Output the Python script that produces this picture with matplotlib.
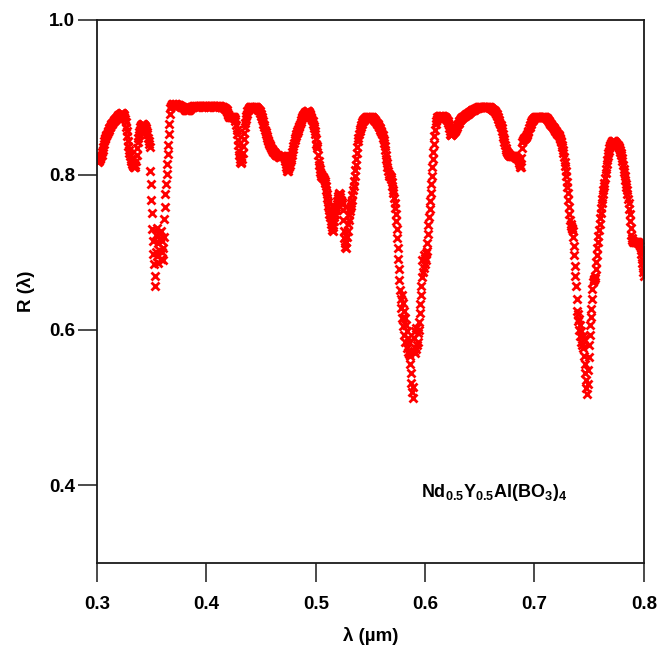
import numpy as np
import matplotlib
matplotlib.use("Agg")
import matplotlib.pyplot as plt
from matplotlib.ticker import FormatStrFormatter

plt.rcParams['font.family'] = ['Liberation Sans', 'DejaVu Sans']
plt.rcParams['font.weight'] = 'bold'
plt.rcParams['mathtext.fontset'] = 'custom'
plt.rcParams['mathtext.rm'] = 'Liberation Sans:bold'
plt.rcParams['mathtext.bf'] = 'Liberation Sans:bold'

# wavelength grid, 0.5 nm steps from 300 to 800 nm
wl = np.arange(300, 800.5, 0.5) / 1000.0

# reflectance, one list per 10 nm
r300 = [0.818, 0.817, 0.819, 0.818, 0.820, 0.821, 0.822, 0.824, 0.826, 0.829, 0.832, 0.836, 0.840, 0.843, 0.846, 0.848, 0.850, 0.851, 0.853, 0.855]
r310 = [0.857, 0.858, 0.860, 0.861, 0.862, 0.864, 0.865, 0.866, 0.867, 0.868, 0.869, 0.870, 0.871, 0.872, 0.872, 0.873, 0.874, 0.875, 0.876, 0.877]
r320 = [0.877, 0.878, 0.879, 0.879, 0.880, 0.880, 0.880, 0.879, 0.878, 0.877, 0.875, 0.872, 0.868, 0.862, 0.856, 0.850, 0.843, 0.837, 0.832, 0.828]
r330 = [0.824, 0.821, 0.818, 0.816, 0.814, 0.812, 0.811, 0.810, 0.810, 0.810, 0.812, 0.818, 0.826, 0.835, 0.842, 0.847, 0.851, 0.855, 0.858, 0.861]
r340 = [0.863, 0.864, 0.865, 0.865, 0.865, 0.864, 0.864, 0.863, 0.862, 0.860, 0.858, 0.855, 0.852, 0.848, 0.844, 0.840, 0.836, 0.805, 0.788, 0.768]
r350 = [0.751, 0.730, 0.715, 0.698, 0.685, 0.670, 0.657, 0.722, 0.700, 0.731, 0.695, 0.712, 0.686, 0.725, 0.703, 0.718, 0.692, 0.728, 0.700, 0.715]
r360 = [0.690, 0.705, 0.720, 0.743, 0.758, 0.775, 0.788, 0.801, 0.814, 0.827, 0.839, 0.852, 0.865, 0.878, 0.886, 0.889, 0.890, 0.891, 0.891, 0.891]
r370 = [0.890, 0.890, 0.890, 0.891, 0.891, 0.891, 0.890, 0.890, 0.890, 0.890, 0.890, 0.889, 0.889, 0.889, 0.888, 0.888, 0.887, 0.887, 0.886, 0.886]
r380 = [0.885, 0.884, 0.884, 0.883, 0.883, 0.883, 0.883, 0.884, 0.884, 0.885, 0.886, 0.887, 0.887, 0.888, 0.888, 0.888, 0.889, 0.889, 0.889, 0.889]
r390 = [0.889, 0.889, 0.888, 0.889, 0.889, 0.889, 0.888, 0.889, 0.889, 0.889, 0.889, 0.888, 0.889, 0.889, 0.889, 0.889, 0.888, 0.889, 0.889, 0.889]
r400 = [0.889, 0.889, 0.888, 0.889, 0.889, 0.889, 0.888, 0.889, 0.889, 0.889, 0.889, 0.888, 0.889, 0.889, 0.889, 0.889, 0.888, 0.889, 0.889, 0.889]
r410 = [0.889, 0.889, 0.889, 0.889, 0.889, 0.889, 0.888, 0.888, 0.888, 0.888, 0.887, 0.887, 0.886, 0.886, 0.885, 0.885, 0.884, 0.883, 0.881, 0.879]
r420 = [0.877, 0.876, 0.875, 0.874, 0.874, 0.874, 0.874, 0.874, 0.874, 0.874, 0.874, 0.873, 0.872, 0.869, 0.864, 0.858, 0.852, 0.845, 0.838, 0.831]
r430 = [0.825, 0.820, 0.817, 0.815, 0.816, 0.820, 0.828, 0.837, 0.846, 0.854, 0.861, 0.867, 0.872, 0.876, 0.879, 0.882, 0.884, 0.885, 0.886, 0.887]
r440 = [0.887, 0.888, 0.888, 0.888, 0.888, 0.888, 0.888, 0.888, 0.888, 0.887, 0.887, 0.887, 0.886, 0.886, 0.885, 0.884, 0.883, 0.882, 0.880, 0.878]
r450 = [0.876, 0.874, 0.872, 0.869, 0.866, 0.864, 0.861, 0.858, 0.855, 0.852, 0.850, 0.847, 0.845, 0.843, 0.841, 0.840, 0.839, 0.837, 0.835, 0.833]
r460 = [0.832, 0.831, 0.830, 0.829, 0.829, 0.828, 0.827, 0.826, 0.826, 0.825, 0.825, 0.824, 0.824, 0.823, 0.823, 0.823, 0.824, 0.824, 0.824, 0.824]
r470 = [0.824, 0.824, 0.823, 0.821, 0.818, 0.814, 0.810, 0.807, 0.805, 0.805, 0.807, 0.810, 0.813, 0.816, 0.819, 0.822, 0.825, 0.829, 0.833, 0.837]
r480 = [0.841, 0.845, 0.848, 0.850, 0.852, 0.854, 0.856, 0.857, 0.859, 0.861, 0.863, 0.866, 0.868, 0.871, 0.873, 0.875, 0.876, 0.877, 0.878, 0.879]
r490 = [0.880, 0.881, 0.881, 0.882, 0.882, 0.882, 0.882, 0.881, 0.880, 0.879, 0.877, 0.875, 0.873, 0.871, 0.869, 0.866, 0.863, 0.860, 0.857, 0.852]
r500 = [0.846, 0.840, 0.837, 0.834, 0.826, 0.818, 0.812, 0.808, 0.804, 0.801, 0.799, 0.798, 0.797, 0.797, 0.796, 0.794, 0.792, 0.789, 0.785, 0.780]
r510 = [0.775, 0.770, 0.765, 0.760, 0.755, 0.750, 0.745, 0.741, 0.737, 0.733, 0.729, 0.728, 0.733, 0.740, 0.745, 0.750, 0.754, 0.758, 0.762, 0.766]
r520 = [0.770, 0.773, 0.775, 0.776, 0.775, 0.772, 0.768, 0.765, 0.762, 0.755, 0.742, 0.728, 0.718, 0.712, 0.707, 0.713, 0.705, 0.720, 0.728, 0.736]
r530 = [0.742, 0.748, 0.753, 0.757, 0.760, 0.763, 0.768, 0.774, 0.780, 0.786, 0.792, 0.799, 0.806, 0.813, 0.820, 0.828, 0.836, 0.843, 0.848, 0.852]
r540 = [0.856, 0.859, 0.862, 0.864, 0.866, 0.868, 0.869, 0.870, 0.871, 0.872, 0.873, 0.873, 0.874, 0.874, 0.874, 0.875, 0.875, 0.875, 0.875, 0.875]
r550 = [0.875, 0.875, 0.874, 0.874, 0.873, 0.873, 0.872, 0.871, 0.870, 0.869, 0.868, 0.867, 0.866, 0.865, 0.864, 0.862, 0.861, 0.860, 0.858, 0.857]
r560 = [0.855, 0.853, 0.851, 0.848, 0.845, 0.841, 0.837, 0.832, 0.826, 0.820, 0.815, 0.810, 0.805, 0.801, 0.799, 0.798, 0.798, 0.797, 0.795, 0.791]
r570 = [0.786, 0.781, 0.776, 0.770, 0.764, 0.757, 0.749, 0.740, 0.730, 0.718, 0.705, 0.692, 0.678, 0.665, 0.652, 0.640, 0.628, 0.645, 0.616, 0.635]
r580 = [0.605, 0.624, 0.594, 0.615, 0.585, 0.606, 0.577, 0.598, 0.572, 0.590, 0.569, 0.584, 0.566, 0.556, 0.545, 0.532, 0.520, 0.512, 0.527, 0.573]
r590 = [0.590, 0.570, 0.598, 0.575, 0.603, 0.580, 0.596, 0.585, 0.600, 0.610, 0.622, 0.634, 0.645, 0.656, 0.668, 0.690, 0.675, 0.697, 0.680, 0.693]
r600 = [0.685, 0.699, 0.690, 0.702, 0.712, 0.724, 0.735, 0.746, 0.756, 0.766, 0.777, 0.788, 0.799, 0.810, 0.820, 0.830, 0.840, 0.850, 0.858, 0.865]
r610 = [0.869, 0.872, 0.874, 0.875, 0.875, 0.876, 0.876, 0.876, 0.876, 0.876, 0.876, 0.876, 0.876, 0.876, 0.875, 0.875, 0.875, 0.874, 0.873, 0.872]
r620 = [0.871, 0.869, 0.867, 0.864, 0.860, 0.856, 0.853, 0.851, 0.851, 0.852, 0.853, 0.854, 0.855, 0.856, 0.857, 0.858, 0.859, 0.860, 0.862, 0.864]
r630 = [0.866, 0.867, 0.869, 0.870, 0.871, 0.872, 0.873, 0.873, 0.874, 0.875, 0.875, 0.876, 0.876, 0.877, 0.877, 0.878, 0.878, 0.879, 0.879, 0.880]
r640 = [0.880, 0.881, 0.881, 0.882, 0.882, 0.883, 0.883, 0.884, 0.884, 0.884, 0.885, 0.885, 0.885, 0.886, 0.886, 0.886, 0.886, 0.887, 0.887, 0.887]
r650 = [0.887, 0.887, 0.887, 0.888, 0.888, 0.888, 0.888, 0.888, 0.888, 0.888, 0.888, 0.888, 0.888, 0.888, 0.887, 0.887, 0.887, 0.887, 0.887, 0.886]
r660 = [0.886, 0.886, 0.885, 0.885, 0.884, 0.884, 0.883, 0.882, 0.881, 0.880, 0.879, 0.878, 0.876, 0.874, 0.872, 0.870, 0.868, 0.866, 0.864, 0.862]
r670 = [0.860, 0.856, 0.853, 0.849, 0.846, 0.842, 0.838, 0.835, 0.832, 0.830, 0.829, 0.828, 0.827, 0.826, 0.825, 0.825, 0.824, 0.824, 0.824, 0.824]
r680 = [0.824, 0.824, 0.824, 0.824, 0.824, 0.823, 0.823, 0.822, 0.822, 0.821, 0.820, 0.818, 0.815, 0.812, 0.810, 0.810, 0.822, 0.835, 0.842, 0.845]
r690 = [0.846, 0.847, 0.848, 0.848, 0.849, 0.850, 0.851, 0.853, 0.855, 0.857, 0.860, 0.862, 0.864, 0.866, 0.868, 0.869, 0.870, 0.871, 0.872, 0.873]
r700 = [0.873, 0.874, 0.874, 0.875, 0.875, 0.875, 0.875, 0.875, 0.875, 0.875, 0.875, 0.875, 0.875, 0.875, 0.875, 0.875, 0.875, 0.874, 0.874, 0.874]
r710 = [0.874, 0.873, 0.873, 0.872, 0.871, 0.870, 0.869, 0.868, 0.867, 0.866, 0.865, 0.864, 0.863, 0.862, 0.861, 0.860, 0.859, 0.858, 0.857, 0.856]
r720 = [0.855, 0.854, 0.853, 0.852, 0.851, 0.850, 0.848, 0.846, 0.844, 0.842, 0.839, 0.836, 0.832, 0.828, 0.823, 0.817, 0.811, 0.805, 0.798, 0.791]
r730 = [0.784, 0.776, 0.768, 0.759, 0.750, 0.742, 0.737, 0.734, 0.732, 0.730, 0.727, 0.720, 0.708, 0.696, 0.683, 0.670, 0.657, 0.640, 0.625, 0.612]
r740 = [0.620, 0.600, 0.614, 0.592, 0.606, 0.585, 0.598, 0.580, 0.592, 0.577, 0.588, 0.567, 0.556, 0.545, 0.535, 0.525, 0.518, 0.530, 0.548, 0.565]
r750 = [0.580, 0.593, 0.606, 0.617, 0.627, 0.640, 0.653, 0.662, 0.665, 0.666, 0.667, 0.670, 0.678, 0.688, 0.697, 0.706, 0.714, 0.721, 0.729, 0.737]
r760 = [0.744, 0.751, 0.757, 0.763, 0.769, 0.775, 0.780, 0.785, 0.790, 0.796, 0.802, 0.808, 0.814, 0.819, 0.824, 0.828, 0.831, 0.834, 0.837, 0.839]
r770 = [0.841, 0.842, 0.843, 0.843, 0.843, 0.843, 0.843, 0.842, 0.842, 0.841, 0.840, 0.839, 0.838, 0.837, 0.836, 0.834, 0.832, 0.830, 0.828, 0.825]
r780 = [0.822, 0.818, 0.813, 0.808, 0.803, 0.798, 0.793, 0.788, 0.784, 0.780, 0.775, 0.769, 0.763, 0.756, 0.749, 0.740, 0.731, 0.723, 0.718, 0.716]
r790 = [0.715, 0.714, 0.714, 0.713, 0.713, 0.713, 0.713, 0.713, 0.713, 0.713, 0.712, 0.712, 0.711, 0.708, 0.703, 0.698, 0.692, 0.686, 0.680, 0.675]
r800 = [0.670]

refl = np.array(r300 + r310 + r320 + r330 + r340 + r350 + r360 + r370 + r380 + r390
                + r400 + r410 + r420 + r430 + r440 + r450 + r460 + r470 + r480 + r490
                + r500 + r510 + r520 + r530 + r540 + r550 + r560 + r570 + r580 + r590
                + r600 + r610 + r620 + r630 + r640 + r650 + r660 + r670 + r680 + r690
                + r700 + r710 + r720 + r730 + r740 + r750 + r760 + r770 + r780 + r790
                + r800)

x_ticks = [0.3, 0.4, 0.5, 0.6, 0.7, 0.8]
y_ticks = [0.4, 0.6, 0.8, 1.0]

fig = plt.figure(figsize=(6.61, 6.55), dpi=100)
ax = fig.add_axes([0.147, 0.141, 0.827, 0.829])

ax.plot(wl, refl, linestyle='none', marker='x', color='#ff0000',
        markersize=5.4, markeredgewidth=2.0)

ax.set_xlim(0.3, 0.8)
ax.set_ylim(0.3, 1.0)
ax.set_xticks(x_ticks)
ax.set_yticks(y_ticks)
ax.xaxis.set_major_formatter(FormatStrFormatter('%.1f'))
ax.yaxis.set_major_formatter(FormatStrFormatter('%.1f'))

for sp in ax.spines.values():
    sp.set_linewidth(1.3)
    sp.set_color('#1a1a1a')

ax.tick_params(axis='x', direction='out', length=14, width=1.1, pad=10,
               labelsize=13.5, colors='#1a1a1a')
ax.tick_params(axis='y', direction='out', length=14, width=1.1, pad=2,
               labelsize=13.5, colors='#1a1a1a')
for lab in ax.get_xticklabels() + ax.get_yticklabels():
    lab.set_fontweight('bold')
    lab.set_color('black')

ax.set_xlabel('λ (µm)', fontsize=13.5, fontweight='bold', labelpad=10)
ax.set_ylabel('R (λ)', fontsize=13.5, fontweight='bold', labelpad=10)

ax.text(0.596, 0.391, r'$\mathbf{Nd_{0.5}Y_{0.5}Al(BO_3)_4}$',
        fontsize=13, va='center', ha='left')

fig.savefig('out.png', dpi=100)
